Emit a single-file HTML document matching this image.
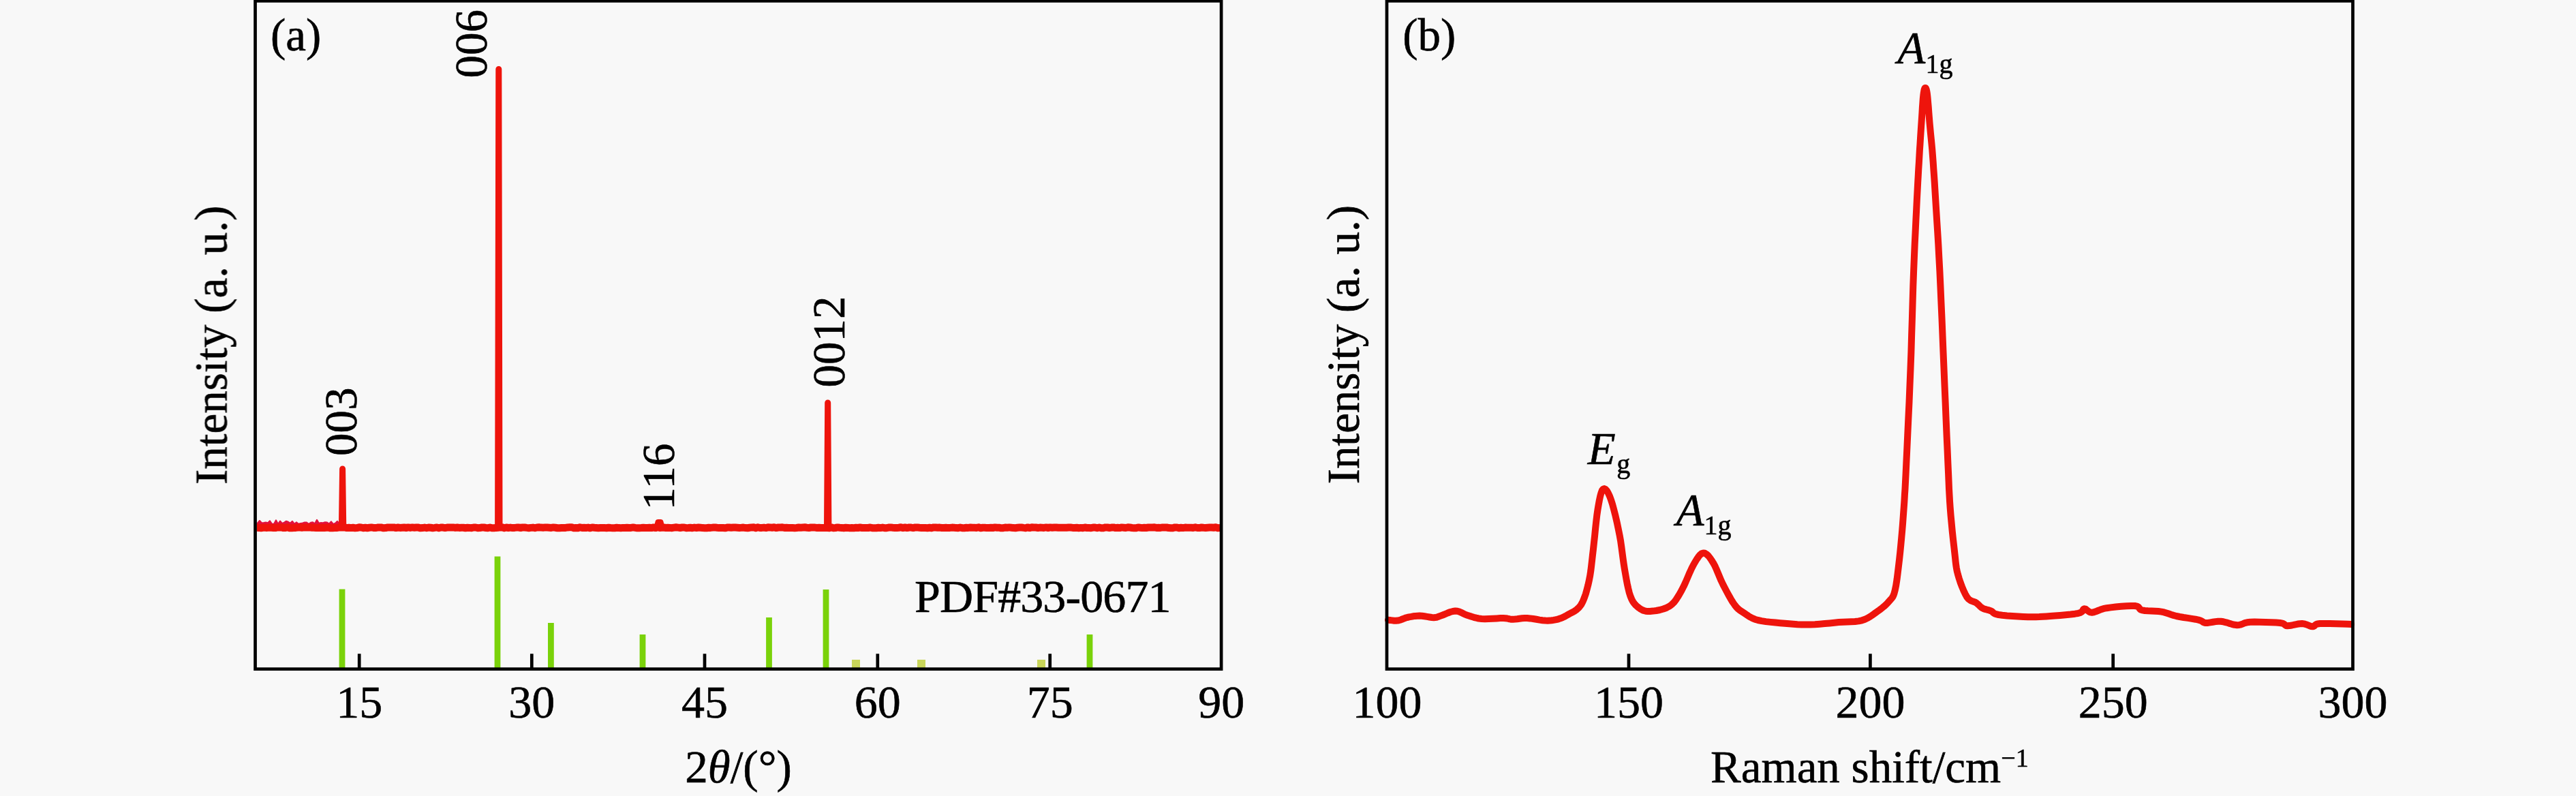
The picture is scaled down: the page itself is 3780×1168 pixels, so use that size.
<!DOCTYPE html>
<html><head><meta charset="utf-8"><style>
html,body{margin:0;padding:0;background:#f8f8f8;overflow:hidden;}
svg{display:block;}
text{font-family:"Liberation Serif",serif;-webkit-font-smoothing:antialiased;}
</style></head><body>
<svg width="3780" height="1168" viewBox="0 0 3780 1168">
<rect x="0" y="0" width="3780" height="1168" fill="#f8f8f8"/>
<rect x="497.6" y="864.5" width="8.8" height="115.5" fill="#7ad20a"/>
<rect x="725.6" y="816.5" width="8.8" height="163.5" fill="#7ad20a"/>
<rect x="804.0" y="914" width="8.8" height="66.0" fill="#7ad20a"/>
<rect x="938.6" y="931" width="8.8" height="49.0" fill="#7ad20a"/>
<rect x="1124.1" y="906" width="8.8" height="74.0" fill="#7ad20a"/>
<rect x="1207.6" y="865" width="8.8" height="115.0" fill="#7ad20a"/>
<rect x="1250.0" y="968" width="12" height="12.0" fill="#c9d65a"/>
<rect x="1346.0" y="968" width="12" height="12.0" fill="#c9d65a"/>
<rect x="1522.0" y="968" width="12" height="12.0" fill="#c9d65a"/>
<rect x="1594.6" y="931" width="8.8" height="49.0" fill="#7ad20a"/>
<path d="M378.0,767.5 L381.0,764.0 L384.0,767.2 L387.0,767.1 L390.0,766.5 L393.0,767.2 L396.0,764.3 L399.0,768.5 L402.0,768.7 L405.0,763.3 L408.0,768.8 L411.0,764.5 L414.0,768.0 L417.0,766.6 L420.0,764.7 L423.0,765.8 L426.0,767.5 L429.0,764.8 L432.0,768.7 L435.0,766.4 L438.0,768.8 L441.0,768.0 L444.0,767.4 L447.0,766.5 L450.0,766.6 L453.0,768.8 L456.0,766.7 L459.0,766.2 L462.0,768.3 L465.0,762.8 L468.0,767.8 L471.0,767.0 L474.0,767.2 L477.0,766.2 L480.0,766.5 L483.0,768.5 L486.0,765.3 L489.0,769.0 L492.0,767.7 L495.0,764.8 L498.0,768.4 L500,772 L378,772 Z" fill="#e2123c" stroke="#e2123c" stroke-width="2" stroke-linejoin="round"/>
<path d="M377.0,774.3 L380.0,774.4 L383.0,774.7 L386.0,774.3 L389.0,774.3 L392.0,774.4 L395.0,774.0 L398.0,774.3 L401.0,774.4 L404.0,774.6 L407.0,773.9 L410.0,774.1 L413.0,773.9 L416.0,774.6 L419.0,774.5 L422.0,773.8 L425.0,774.8 L428.0,774.8 L431.0,774.5 L434.0,774.4 L437.0,774.0 L440.0,773.8 L443.0,774.3 L446.0,773.9 L449.0,774.0 L452.0,774.0 L455.0,773.8 L458.0,774.3 L461.0,774.2 L464.0,774.6 L467.0,774.3 L470.0,774.4 L473.0,774.3 L476.0,774.5 L479.0,774.3 L482.0,774.1 L485.0,774.8 L488.0,774.8 L491.0,774.6 L494.0,774.5 L497.0,774.1 L500.0,774.0 L503.0,774.1 L506.0,773.9 L509.0,774.6 L512.0,774.2 L515.0,774.6 L518.0,774.2 L521.0,774.8 L524.0,774.6 L527.0,773.8 L530.0,774.0 L533.0,774.7 L536.0,774.3 L539.0,774.8 L542.0,774.2 L545.0,773.9 L548.0,774.4 L551.0,774.6 L554.0,774.1 L557.0,773.9 L560.0,774.1 L563.0,774.8 L566.0,774.6 L569.0,773.9 L572.0,774.0 L575.0,773.9 L578.0,773.9 L581.0,774.6 L584.0,774.0 L587.0,774.4 L590.0,774.2 L593.0,774.0 L596.0,774.5 L599.0,773.9 L602.0,774.4 L605.0,773.9 L608.0,774.2 L611.0,774.0 L614.0,774.1 L617.0,774.8 L620.0,774.6 L623.0,774.1 L626.0,774.7 L629.0,774.0 L632.0,774.2 L635.0,774.7 L638.0,774.4 L641.0,773.9 L644.0,774.8 L647.0,774.0 L650.0,774.1 L653.0,774.6 L656.0,774.1 L659.0,774.1 L662.0,773.9 L665.0,773.9 L668.0,774.4 L671.0,774.0 L674.0,774.4 L677.0,774.2 L680.0,774.3 L683.0,774.8 L686.0,774.3 L689.0,774.4 L692.0,774.7 L695.0,774.0 L698.0,774.0 L701.0,774.7 L704.0,774.6 L707.0,774.0 L710.0,774.0 L713.0,774.5 L716.0,774.7 L719.0,774.0 L722.0,774.8 L725.0,774.7 L728.0,774.4 L731.0,774.2 L734.0,773.9 L737.0,773.8 L740.0,774.8 L743.0,774.0 L746.0,774.5 L749.0,774.1 L752.0,774.6 L755.0,774.4 L758.0,774.1 L761.0,774.0 L764.0,774.5 L767.0,773.9 L770.0,774.0 L773.0,774.4 L776.0,774.7 L779.0,774.4 L782.0,774.1 L785.0,774.7 L788.0,774.0 L791.0,773.8 L794.0,774.1 L797.0,774.2 L800.0,773.9 L803.0,774.0 L806.0,774.2 L809.0,774.4 L812.0,773.9 L815.0,774.2 L818.0,774.7 L821.0,774.8 L824.0,774.5 L827.0,774.5 L830.0,774.4 L833.0,773.9 L836.0,773.8 L839.0,773.8 L842.0,774.7 L845.0,774.5 L848.0,774.8 L851.0,773.8 L854.0,774.4 L857.0,774.3 L860.0,774.5 L863.0,774.1 L866.0,774.8 L869.0,773.9 L872.0,774.3 L875.0,774.5 L878.0,774.7 L881.0,774.5 L884.0,774.5 L887.0,774.6 L890.0,774.7 L893.0,774.2 L896.0,774.5 L899.0,774.7 L902.0,774.7 L905.0,774.2 L908.0,774.6 L911.0,774.7 L914.0,774.4 L917.0,774.4 L920.0,774.2 L923.0,774.4 L926.0,774.4 L929.0,773.9 L932.0,774.4 L935.0,774.8 L938.0,774.7 L941.0,774.5 L944.0,774.2 L947.0,774.5 L950.0,774.4 L953.0,774.2 L956.0,774.6 L959.0,773.9 L962.0,774.6 L965.0,773.8 L968.0,774.4 L971.0,774.3 L974.0,774.0 L977.0,774.5 L980.0,774.3 L983.0,774.4 L986.0,774.7 L989.0,774.1 L992.0,773.8 L995.0,774.1 L998.0,774.5 L1001.0,774.0 L1004.0,774.0 L1007.0,774.7 L1010.0,774.5 L1013.0,774.2 L1016.0,774.7 L1019.0,774.1 L1022.0,774.5 L1025.0,774.0 L1028.0,774.2 L1031.0,774.6 L1034.0,774.7 L1037.0,774.7 L1040.0,774.2 L1043.0,774.4 L1046.0,774.1 L1049.0,773.9 L1052.0,774.3 L1055.0,774.6 L1058.0,774.6 L1061.0,774.5 L1064.0,774.8 L1067.0,774.1 L1070.0,774.0 L1073.0,774.3 L1076.0,774.1 L1079.0,774.0 L1082.0,774.2 L1085.0,774.4 L1088.0,774.3 L1091.0,774.1 L1094.0,774.6 L1097.0,774.8 L1100.0,774.3 L1103.0,773.9 L1106.0,773.8 L1109.0,774.7 L1112.0,773.8 L1115.0,774.5 L1118.0,774.4 L1121.0,774.1 L1124.0,774.6 L1127.0,773.8 L1130.0,773.9 L1133.0,774.3 L1136.0,773.8 L1139.0,774.6 L1142.0,774.0 L1145.0,773.9 L1148.0,773.8 L1151.0,774.4 L1154.0,774.2 L1157.0,774.4 L1160.0,774.5 L1163.0,774.6 L1166.0,774.8 L1169.0,774.5 L1172.0,774.0 L1175.0,774.3 L1178.0,774.0 L1181.0,773.8 L1184.0,774.3 L1187.0,774.5 L1190.0,774.0 L1193.0,774.1 L1196.0,774.1 L1199.0,774.5 L1202.0,774.3 L1205.0,774.4 L1208.0,774.6 L1211.0,774.2 L1214.0,774.6 L1217.0,774.7 L1220.0,773.9 L1223.0,774.7 L1226.0,774.5 L1229.0,773.9 L1232.0,774.3 L1235.0,774.4 L1238.0,774.7 L1241.0,774.2 L1244.0,774.4 L1247.0,774.7 L1250.0,774.6 L1253.0,774.7 L1256.0,774.3 L1259.0,774.5 L1262.0,774.0 L1265.0,774.5 L1268.0,774.6 L1271.0,774.4 L1274.0,774.5 L1277.0,774.0 L1280.0,774.7 L1283.0,774.8 L1286.0,774.8 L1289.0,774.3 L1292.0,774.6 L1295.0,774.1 L1298.0,774.7 L1301.0,774.7 L1304.0,774.1 L1307.0,773.9 L1310.0,774.2 L1313.0,774.4 L1316.0,774.6 L1319.0,774.3 L1322.0,773.8 L1325.0,774.6 L1328.0,773.9 L1331.0,774.6 L1334.0,774.0 L1337.0,774.1 L1340.0,774.6 L1343.0,773.9 L1346.0,773.9 L1349.0,774.3 L1352.0,774.5 L1355.0,774.6 L1358.0,774.5 L1361.0,774.7 L1364.0,774.3 L1367.0,774.7 L1370.0,773.9 L1373.0,774.0 L1376.0,774.3 L1379.0,774.1 L1382.0,774.5 L1385.0,774.4 L1388.0,774.3 L1391.0,774.6 L1394.0,774.4 L1397.0,774.1 L1400.0,774.2 L1403.0,774.6 L1406.0,774.7 L1409.0,774.0 L1412.0,774.7 L1415.0,774.8 L1418.0,774.3 L1421.0,774.4 L1424.0,774.0 L1427.0,774.3 L1430.0,774.3 L1433.0,774.4 L1436.0,773.8 L1439.0,774.8 L1442.0,774.3 L1445.0,774.2 L1448.0,774.6 L1451.0,774.4 L1454.0,774.3 L1457.0,774.5 L1460.0,773.9 L1463.0,774.3 L1466.0,774.2 L1469.0,774.8 L1472.0,774.7 L1475.0,774.1 L1478.0,774.3 L1481.0,773.9 L1484.0,774.2 L1487.0,774.6 L1490.0,774.7 L1493.0,774.3 L1496.0,774.1 L1499.0,774.0 L1502.0,774.4 L1505.0,774.7 L1508.0,773.9 L1511.0,774.6 L1514.0,773.8 L1517.0,774.0 L1520.0,774.0 L1523.0,774.5 L1526.0,774.1 L1529.0,774.2 L1532.0,774.4 L1535.0,773.9 L1538.0,774.5 L1541.0,773.9 L1544.0,774.3 L1547.0,774.1 L1550.0,774.0 L1553.0,774.3 L1556.0,774.2 L1559.0,774.2 L1562.0,774.2 L1565.0,774.3 L1568.0,774.0 L1571.0,774.0 L1574.0,774.4 L1577.0,774.4 L1580.0,774.3 L1583.0,774.7 L1586.0,774.4 L1589.0,774.7 L1592.0,774.0 L1595.0,774.5 L1598.0,774.6 L1601.0,774.7 L1604.0,774.1 L1607.0,774.1 L1610.0,774.7 L1613.0,774.0 L1616.0,774.8 L1619.0,774.7 L1622.0,773.9 L1625.0,774.0 L1628.0,774.5 L1631.0,774.1 L1634.0,773.9 L1637.0,774.6 L1640.0,774.2 L1643.0,774.6 L1646.0,773.9 L1649.0,774.2 L1652.0,774.5 L1655.0,773.8 L1658.0,774.0 L1661.0,774.5 L1664.0,774.7 L1667.0,774.8 L1670.0,773.9 L1673.0,774.3 L1676.0,774.6 L1679.0,774.3 L1682.0,774.5 L1685.0,774.0 L1688.0,773.9 L1691.0,773.9 L1694.0,773.8 L1697.0,774.4 L1700.0,774.3 L1703.0,774.4 L1706.0,773.9 L1709.0,774.0 L1712.0,774.0 L1715.0,774.6 L1718.0,774.8 L1721.0,774.7 L1724.0,773.9 L1727.0,773.9 L1730.0,774.8 L1733.0,774.3 L1736.0,774.6 L1739.0,774.1 L1742.0,774.3 L1745.0,774.3 L1748.0,774.2 L1751.0,774.4 L1754.0,773.8 L1757.0,774.5 L1760.0,774.6 L1763.0,774.0 L1766.0,774.3 L1769.0,774.5 L1772.0,774.2 L1775.0,774.0 L1778.0,774.0 L1781.0,774.3 L1784.0,773.8 L1787.0,774.7 L1790.0,774.6" fill="none" stroke="#ee140c" stroke-width="11" stroke-linejoin="round"/>
<path d="M501.40000000000003,774.3 L502.6,688 L503.8,774.3" fill="#ee140c" stroke="#ee140c" stroke-width="9" stroke-linejoin="round"/>
<path d="M730.5999999999999,774.3 L731.8,101.5 L733.0,774.3" fill="#ee140c" stroke="#ee140c" stroke-width="9" stroke-linejoin="round"/>
<path d="M1213.5,774.3 L1214.7,591 L1215.9,774.3" fill="#ee140c" stroke="#ee140c" stroke-width="9" stroke-linejoin="round"/>
<path d="M963.5,774.3 L965.5,766 L969.5,766 L971.5,774.3" fill="#ee140c" stroke="#ee140c" stroke-width="8" stroke-linejoin="round"/>
<path d="M2037.0,909.7 L2038.5,909.9 L2040.6,910.1 L2043.1,910.4 L2045.8,910.7 L2048.5,910.8 L2051.0,910.6 L2053.3,910.1 L2055.5,909.4 L2057.8,908.5 L2060.0,907.6 L2062.4,906.7 L2065.0,906.0 L2067.7,905.4 L2070.6,904.9 L2073.6,904.3 L2076.6,903.9 L2079.8,903.7 L2083.0,903.6 L2086.5,903.8 L2090.2,904.3 L2094.0,904.9 L2097.7,905.5 L2101.1,906.0 L2104.0,906.2 L2106.2,906.1 L2107.7,905.9 L2109.0,905.5 L2110.2,905.0 L2111.8,904.4 L2114.0,903.6 L2117.0,902.5 L2120.5,901.1 L2124.3,899.5 L2128.2,898.0 L2132.0,897.0 L2135.5,896.5 L2138.6,896.8 L2141.5,897.6 L2144.3,898.8 L2147.1,900.2 L2149.9,901.6 L2153.0,902.7 L2156.2,903.7 L2159.3,904.8 L2162.6,905.8 L2166.1,906.7 L2169.8,907.5 L2174.0,908.0 L2178.9,908.2 L2184.5,908.0 L2190.4,907.7 L2196.3,907.4 L2201.6,907.1 L2206.0,907.0 L2209.3,907.2 L2211.7,907.5 L2213.7,908.0 L2215.5,908.4 L2217.5,908.7 L2220.0,908.8 L2223.0,908.6 L2226.3,908.3 L2229.7,907.8 L2233.3,907.3 L2237.1,907.0 L2241.0,907.0 L2245.2,907.4 L2249.8,908.0 L2254.5,908.8 L2259.1,909.6 L2263.5,910.2 L2267.5,910.6 L2271.0,910.7 L2274.1,910.6 L2277.0,910.3 L2279.7,909.9 L2282.3,909.4 L2285.0,908.8 L2287.6,908.1 L2290.0,907.3 L2292.3,906.4 L2294.7,905.3 L2297.2,904.0 L2300.0,902.4 L2303.1,900.6 L2306.6,898.8 L2310.2,896.8 L2313.8,894.3 L2317.1,891.3 L2320.0,887.5 L2322.5,882.9 L2324.7,877.5 L2326.8,871.6 L2328.6,865.2 L2330.3,858.6 L2331.8,851.8 L2333.2,844.8 L2334.3,837.6 L2335.2,830.1 L2336.1,822.2 L2337.0,814.1 L2338.0,805.6 L2339.0,796.3 L2340.1,786.2 L2341.1,775.7 L2342.2,765.5 L2343.3,756.0 L2344.5,747.8 L2345.7,740.6 L2346.9,734.0 L2348.2,728.0 L2349.5,723.2 L2350.9,719.6 L2352.5,717.5 L2354.2,717.1 L2356.0,718.0 L2358.0,720.3 L2360.0,723.7 L2362.0,728.1 L2364.0,733.4 L2366.1,740.0 L2368.3,748.2 L2370.6,757.3 L2372.8,766.9 L2374.8,776.5 L2376.6,785.4 L2378.1,793.9 L2379.3,802.3 L2380.4,810.7 L2381.5,818.9 L2382.6,826.8 L2383.8,834.5 L2385.1,842.0 L2386.4,849.5 L2387.8,856.8 L2389.3,863.6 L2390.8,869.7 L2392.5,875.0 L2394.3,879.3 L2396.2,882.9 L2398.3,885.7 L2400.4,888.1 L2402.6,890.1 L2405.0,892.0 L2407.4,893.7 L2409.7,895.0 L2412.2,896.0 L2414.9,896.7 L2417.9,897.0 L2421.4,897.0 L2425.6,896.6 L2430.4,896.0 L2435.6,895.0 L2440.8,893.5 L2445.7,891.7 L2450.0,889.4 L2453.6,886.6 L2456.7,883.4 L2459.5,879.7 L2462.2,875.6 L2464.8,871.2 L2467.6,866.3 L2470.5,860.6 L2473.5,854.1 L2476.5,847.1 L2479.4,840.3 L2482.3,834.0 L2485.0,828.7 L2487.6,824.3 L2490.0,820.3 L2492.4,816.8 L2494.7,814.1 L2497.0,812.2 L2499.4,811.4 L2501.8,811.8 L2504.2,813.2 L2506.7,815.5 L2509.1,818.5 L2511.5,822.0 L2513.9,825.8 L2516.3,830.1 L2518.6,835.2 L2520.9,840.7 L2523.3,846.5 L2525.7,852.2 L2528.3,857.6 L2531.1,863.0 L2534.0,868.5 L2537.0,874.0 L2540.0,879.3 L2542.9,884.0 L2545.7,888.0 L2548.2,891.1 L2550.5,893.4 L2552.7,895.3 L2555.0,896.8 L2557.3,898.3 L2560.0,900.0 L2562.7,901.8 L2565.4,903.7 L2568.2,905.4 L2571.4,907.1 L2575.1,908.7 L2579.6,910.0 L2585.0,911.1 L2591.3,912.1 L2598.2,912.9 L2605.3,913.6 L2612.3,914.2 L2619.0,914.8 L2625.3,915.3 L2631.4,915.8 L2637.5,916.2 L2643.7,916.4 L2649.9,916.5 L2656.4,916.5 L2663.2,916.2 L2670.3,915.7 L2677.6,915.1 L2684.8,914.4 L2691.7,913.7 L2698.3,913.1 L2704.5,912.7 L2710.6,912.5 L2716.5,912.3 L2722.0,912.0 L2727.3,911.4 L2732.2,910.3 L2736.7,908.7 L2740.8,906.8 L2744.6,904.5 L2748.1,902.1 L2751.5,899.7 L2754.8,897.3 L2758.0,895.0 L2761.1,892.6 L2764.1,890.2 L2766.9,887.7 L2769.4,885.2 L2771.7,882.6 L2773.7,880.4 L2775.4,878.5 L2776.8,876.7 L2778.2,874.2 L2779.5,870.7 L2780.8,865.7 L2782.2,858.9 L2783.5,850.6 L2784.7,841.2 L2785.9,831.2 L2787.1,820.9 L2788.2,810.7 L2789.2,800.4 L2790.2,789.7 L2791.2,778.6 L2792.1,767.5 L2792.9,756.3 L2793.7,745.3 L2794.4,735.3 L2794.9,726.3 L2795.5,717.3 L2796.0,707.2 L2796.6,695.2 L2797.3,680.0 L2798.2,661.1 L2799.2,639.2 L2800.3,615.2 L2801.5,590.2 L2802.5,565.1 L2803.5,540.8 L2804.4,516.8 L2805.1,492.1 L2805.9,467.3 L2806.6,443.0 L2807.3,419.7 L2808.1,398.0 L2808.9,377.7 L2809.7,358.4 L2810.6,340.2 L2811.4,323.0 L2812.2,307.0 L2812.9,292.3 L2813.6,279.1 L2814.2,267.5 L2814.8,257.1 L2815.3,247.5 L2815.9,238.2 L2816.4,229.0 L2816.9,219.9 L2817.5,211.3 L2818.0,203.0 L2818.5,195.1 L2819.0,187.5 L2819.5,180.0 L2820.0,172.5 L2820.5,164.9 L2820.9,157.6 L2821.4,150.9 L2821.8,144.9 L2822.3,140.0 L2822.8,136.2 L2823.3,133.4 L2823.7,131.3 L2824.2,130.0 L2824.7,129.2 L2825.2,129.0 L2825.7,129.2 L2826.2,130.0 L2826.7,131.3 L2827.2,133.4 L2827.7,136.2 L2828.2,140.0 L2828.7,144.9 L2829.2,150.9 L2829.8,157.6 L2830.3,164.9 L2830.9,172.5 L2831.5,180.0 L2832.2,187.5 L2832.9,195.1 L2833.7,203.0 L2834.5,211.3 L2835.3,219.9 L2836.0,229.0 L2836.7,238.2 L2837.3,247.5 L2838.0,257.1 L2838.7,267.5 L2839.4,279.1 L2840.2,292.3 L2841.1,307.0 L2842.1,323.0 L2843.2,340.2 L2844.3,358.4 L2845.3,377.7 L2846.4,398.0 L2847.4,419.7 L2848.4,443.0 L2849.5,467.3 L2850.5,492.1 L2851.5,516.8 L2852.5,540.8 L2853.5,565.1 L2854.6,590.2 L2855.6,615.2 L2856.6,639.2 L2857.6,661.1 L2858.4,680.0 L2859.1,695.2 L2859.6,707.2 L2860.0,717.3 L2860.5,726.3 L2861.0,735.3 L2861.7,745.3 L2862.6,756.6 L2863.7,768.3 L2864.8,780.0 L2866.0,791.3 L2867.2,801.7 L2868.2,810.7 L2869.0,818.0 L2869.6,824.0 L2870.2,829.0 L2870.9,833.6 L2871.8,838.2 L2873.1,843.3 L2874.8,849.0 L2876.8,855.1 L2879.1,861.1 L2881.5,866.9 L2883.9,871.9 L2886.2,876.0 L2888.5,878.8 L2890.9,880.7 L2893.4,881.9 L2895.7,882.7 L2898.0,883.5 L2900.0,884.6 L2901.7,886.0 L2903.2,887.4 L2904.6,888.7 L2905.9,890.0 L2907.3,891.2 L2909.0,892.3 L2910.9,893.2 L2913.0,893.9 L2915.2,894.5 L2917.5,895.1 L2919.6,895.8 L2921.7,896.5 L2923.2,897.4 L2924.3,898.3 L2925.2,899.3 L2926.6,900.3 L2928.9,901.2 L2932.6,902.0 L2938.1,902.7 L2945.1,903.4 L2952.9,904.0 L2961.1,904.5 L2969.0,904.9 L2976.0,905.2 L2982.0,905.3 L2987.4,905.2 L2992.5,905.1 L2997.6,904.8 L3002.9,904.4 L3008.7,904.0 L3015.5,903.5 L3023.0,902.9 L3030.8,902.2 L3038.3,901.5 L3044.9,900.7 L3050.0,899.8 L3053.3,898.7 L3055.2,897.4 L3056.2,896.0 L3056.8,894.7 L3057.5,893.7 L3058.7,893.3 L3060.3,893.6 L3061.8,894.7 L3063.3,896.0 L3065.1,897.3 L3067.1,898.4 L3069.6,898.7 L3072.4,898.3 L3075.3,897.3 L3078.5,896.0 L3082.2,894.6 L3086.4,893.2 L3091.3,892.2 L3097.4,891.4 L3104.7,890.5 L3112.6,889.8 L3120.4,889.2 L3127.2,888.9 L3132.6,889.0 L3136.0,889.6 L3137.8,890.6 L3138.9,891.9 L3139.7,893.2 L3141.0,894.5 L3143.5,895.4 L3147.3,896.0 L3151.9,896.3 L3156.9,896.5 L3162.1,896.7 L3167.2,897.0 L3171.7,897.6 L3175.6,898.4 L3179.0,899.5 L3182.3,900.6 L3185.7,901.8 L3189.3,902.9 L3193.5,904.0 L3198.5,905.0 L3204.3,906.0 L3210.4,906.9 L3216.4,907.9 L3221.7,908.7 L3226.0,909.6 L3229.0,910.5 L3230.9,911.4 L3232.2,912.3 L3233.3,913.1 L3234.8,913.7 L3237.0,914.0 L3240.0,913.9 L3243.4,913.4 L3247.0,912.8 L3250.9,912.1 L3254.8,911.7 L3258.7,911.7 L3262.6,912.3 L3266.7,913.3 L3270.8,914.6 L3274.9,915.8 L3278.9,916.8 L3282.6,917.2 L3285.8,917.0 L3288.5,916.3 L3291.1,915.3 L3293.9,914.2 L3297.4,913.3 L3302.0,912.8 L3308.3,912.6 L3316.0,912.7 L3324.4,912.9 L3332.7,913.2 L3340.0,913.6 L3345.7,914.0 L3349.3,914.6 L3351.3,915.5 L3352.5,916.4 L3353.3,917.3 L3354.5,918.0 L3356.5,918.3 L3359.5,918.1 L3363.1,917.5 L3367.0,916.6 L3370.9,915.8 L3374.6,915.2 L3378.0,915.0 L3381.0,915.4 L3383.8,916.2 L3386.4,917.2 L3388.9,918.2 L3391.3,919.0 L3393.5,919.3 L3395.2,919.0 L3396.2,918.3 L3397.0,917.4 L3398.3,916.4 L3400.5,915.5 L3404.3,915.0 L3410.4,914.9 L3418.6,915.0 L3427.8,915.2 L3436.9,915.5 L3444.6,915.8 L3450.0,916.0" fill="none" stroke="#ee140c" stroke-width="10" stroke-linejoin="round" stroke-linecap="round"/>
<g fill="none" stroke="#000" stroke-width="4.7">
<rect x="374.55" y="1.35" width="1417.55" height="980.35"/>
<rect x="2035" y="1.35" width="1417.5" height="980.35"/>
<line x1="527.2" y1="959.3" x2="527.2" y2="981"/>
<line x1="780.3" y1="959.3" x2="780.3" y2="981"/>
<line x1="1034" y1="959.3" x2="1034" y2="981"/>
<line x1="1287.8" y1="959.3" x2="1287.8" y2="981"/>
<line x1="1540.7" y1="959.3" x2="1540.7" y2="981"/>
<line x1="2390" y1="959.3" x2="2390" y2="981"/>
<line x1="2744.4" y1="959.3" x2="2744.4" y2="981"/>
<line x1="3100.7" y1="959.3" x2="3100.7" y2="981"/>
</g>
<g font-family="Liberation Serif" font-size="67" fill="#000" stroke="#000" stroke-width="0.6" style="will-change:transform">
<text x="527.2" y="1052.9" text-anchor="middle" font-size="68">15</text>
<text x="780.3" y="1052.9" text-anchor="middle" font-size="68">30</text>
<text x="1034" y="1052.9" text-anchor="middle" font-size="68">45</text>
<text x="1287.8" y="1052.9" text-anchor="middle" font-size="68">60</text>
<text x="1540.7" y="1052.9" text-anchor="middle" font-size="68">75</text>
<text x="1792.2" y="1052.9" text-anchor="middle" font-size="68">90</text>
<text x="2035.5" y="1052.9" text-anchor="middle" font-size="68">100</text>
<text x="2390" y="1052.9" text-anchor="middle" font-size="68">150</text>
<text x="2744.4" y="1052.9" text-anchor="middle" font-size="68">200</text>
<text x="3100.7" y="1052.9" text-anchor="middle" font-size="68">250</text>
<text x="3452.4" y="1052.9" text-anchor="middle" font-size="68">300</text>
<text x="396.9" y="73.8">(a)</text>
<text x="2058.2" y="73.6">(b)</text>
<text x="1005.3" y="1147.5">2<tspan font-style="italic">θ</tspan>/(°)</text>
<text x="2510.1" y="1148.2">Raman shift/cm<tspan font-size="38" dy="-23.6">−1</tspan></text>
<text transform="translate(332.6,711) rotate(-90)">Intensity (a. u.)</text>
<text transform="translate(1994.1,710.3) rotate(-90)">Intensity (a. u.)</text>
<text transform="translate(713.5,114.4) rotate(-90)">006</text>
<text transform="translate(522.6,669) rotate(-90)">003</text>
<text transform="translate(988.8,748.6) rotate(-90)">116</text>
<text transform="translate(1238.5,568.4) rotate(-90)">0012</text>
<text x="1342.1" y="897.6" font-size="68" letter-spacing="-0.9">PDF#33-0671</text>
<text x="2784.2" y="92.8" font-style="italic">A</text><text x="2825.4" y="106.9" font-size="40">1g</text>
<text x="2459.5" y="770.8" font-style="italic">A</text><text x="2500.5" y="784.4" font-size="40">1g</text>
<text x="2329.8" y="680.7" font-style="italic">E</text><text x="2372.2" y="694.1" font-size="40">g</text>
</g>
</svg>
</body></html>
